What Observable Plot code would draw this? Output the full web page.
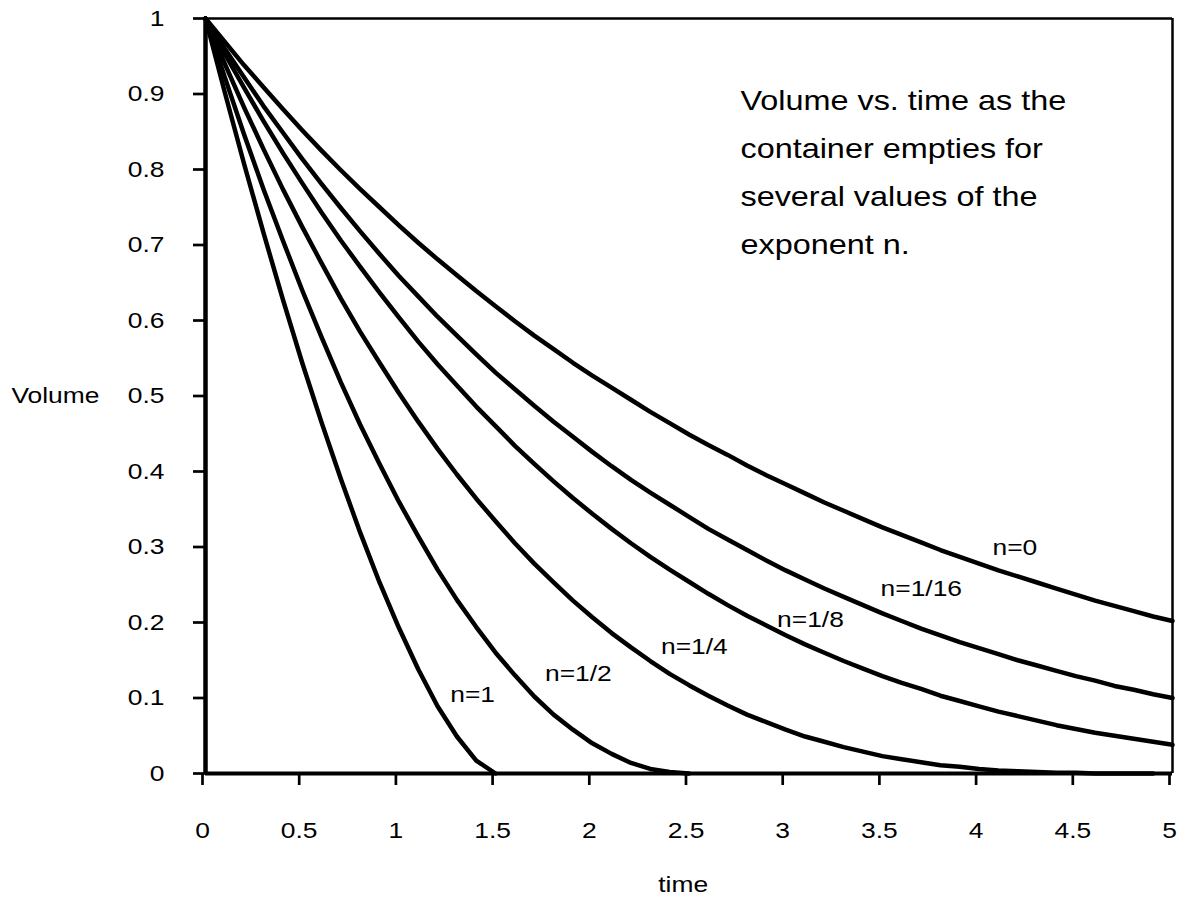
<!DOCTYPE html>
<html>
<head>
<meta charset="utf-8">
<script src="https://cdn.jsdelivr.net/npm/d3@7"></script>
<script src="https://cdn.jsdelivr.net/npm/@observablehq/plot@0.6"></script>
<style>
  html, body { margin: 0; padding: 0; background: #fff; }
</style>
</head>
<body>
<div id="chart"></div>
<script>
// ---- data ----
const times = [0,0.1,0.2,0.3,0.4,0.5,0.6,0.7,0.8,0.9,1,1.1,1.2,1.3,1.4,1.5,1.6,1.7,1.8,1.9,2,2.1,2.2,2.3,2.4,2.5,2.6,2.7,2.8,2.9,3,3.1,3.2,3.3,3.4,3.5,3.6,3.7,3.8,3.9,4,4.1,4.2,4.3,4.4,4.5,4.6,4.7,4.8,4.9,5];

const vN0    = [1,0.969,0.938,0.909,0.880,0.852,0.825,0.799,0.774,0.750,0.726,0.703,0.681,0.660,0.639,0.619,0.599,0.580,0.562,0.544,0.527,0.511,0.495,0.479,0.464,0.449,0.435,0.422,0.408,0.395,0.383,0.371,0.359,0.348,0.337,0.326,0.316,0.306,0.296,0.287,0.278,0.269,0.261,0.253,0.245,0.237,0.229,0.222,0.215,0.208,0.202];
const vN1_16 = [1,0.960,0.922,0.884,0.849,0.814,0.781,0.749,0.718,0.688,0.659,0.632,0.605,0.580,0.555,0.531,0.509,0.487,0.466,0.446,0.426,0.407,0.389,0.372,0.356,0.340,0.324,0.310,0.296,0.282,0.269,0.257,0.245,0.234,0.223,0.212,0.202,0.192,0.183,0.174,0.166,0.158,0.150,0.143,0.136,0.129,0.123,0.116,0.111,0.105,0.100];
const vN1_8  = [1,0.953,0.908,0.864,0.822,0.782,0.743,0.706,0.671,0.637,0.604,0.572,0.542,0.514,0.486,0.460,0.434,0.410,0.387,0.365,0.344,0.324,0.305,0.287,0.270,0.254,0.238,0.223,0.209,0.196,0.183,0.171,0.160,0.149,0.139,0.129,0.120,0.112,0.103,0.096,0.089,0.082,0.076,0.070,0.064,0.059,0.054,0.050,0.046,0.042,0.038];
const vN1_4  = [1,0.940,0.882,0.827,0.774,0.724,0.676,0.629,0.585,0.544,0.504,0.466,0.430,0.396,0.364,0.334,0.305,0.278,0.253,0.229,0.207,0.186,0.167,0.149,0.132,0.117,0.103,0.090,0.078,0.068,0.058,0.049,0.042,0.035,0.029,0.023,0.019,0.015,0.011,0.009,0.006,0.004,0.003,0.002,0.001,0.001,0,0,0,0];
const vN1_2  = [1,0.922,0.846,0.774,0.706,0.640,0.578,0.518,0.462,0.410,0.360,0.314,0.270,0.230,0.194,0.160,0.130,0.102,0.078,0.058,0.040,0.026,0.014,0.006,0.002,0];
const vN1    = [1,0.902,0.807,0.716,0.628,0.544,0.465,0.390,0.319,0.253,0.193,0.138,0.089,0.049,0.017,0];

const seriesNames  = ["n=0","n=1/16","n=1/8","n=1/4","n=1/2","n=1"];
const seriesValues = [vN0, vN1_16, vN1_8, vN1_4, vN1_2, vN1];

// curve label positions (data units)
const labelT = [4.185, 3.701, 3.128, 2.528, 1.928, 1.381];
const labelV = [0.299, 0.244, 0.203, 0.168, 0.132, 0.104];

const xTicks = [0,0.5,1,1.5,2,2.5,3,3.5,4,4.5,5];
const yTicks = [0,0.1,0.2,0.3,0.4,0.5,0.6,0.7,0.8,0.9,1];

const noteLines = ["Volume vs. time as the", "container empties for", "several values of the", "exponent n."];
const noteT = [2.766];
const noteV = [0.9245];

const xTitle = "time";
const yTitle = "Volume";

// ---- tables built from the arrays ----
const lineData = seriesNames.flatMap((name, k) =>
  seriesValues[k].map((v, i) => ({t: times[i], v, n: name})));
const labelData = seriesNames.map((name, k) => ({t: labelT[k], v: labelV[k], name}));

const font = "'Liberation Sans', Arial, Helvetica, sans-serif";

const chart = Plot.plot({
  width: 1177,
  height: 899,
  marginLeft: 205,
  marginRight: 5,
  marginTop: 18,
  marginBottom: 126,
  style: {fontFamily: font, fontSize: "22px", color: "#000", background: "#fff", overflow: "visible"},
  x: {domain: [0, 5]},
  y: {domain: [0, 1]},
  marks: [
    Plot.ruleY([1], {stroke: "#000", strokeWidth: 2.5}),
    Plot.ruleX([5], {stroke: "#000", strokeWidth: 2.5}),
    Plot.axisX({ticks: xTicks, tickSize: 12, tickPadding: 37, tickFormat: d => String(d), label: null, strokeWidth: 2.7, stroke: "#000", fill: "#000", dx: -3}),
    Plot.axisY({ticks: yTicks, tickSize: 12, tickPadding: 29, tickFormat: d => String(d), label: null, strokeWidth: 2.7, stroke: "#000", fill: "#000"}),
    Plot.line(lineData, {x: "t", y: "v", z: "n", stroke: "#000", strokeWidth: 4.5, strokeLinejoin: "round", strokeLinecap: "round"}),
    Plot.ruleY([0], {stroke: "#000", strokeWidth: 4}),
    Plot.ruleX([0], {stroke: "#000", strokeWidth: 4.5}),
    Plot.text(labelData, {x: "t", y: "v", text: "name", fontSize: 22, fill: "#000", textAnchor: "middle"}),
    Plot.text([noteLines.join("\n")], {x: noteT, y: noteV, text: d => d, fontSize: 27, lineHeight: 1.78, lineAnchor: "top", textAnchor: "start", fill: "#000"}),
    Plot.text([yTitle], {x: [-0.776], y: [0.5], text: d => d, fontSize: 22, fill: "#000", textAnchor: "middle"}),
    Plot.text([xTitle], {x: [2.47], y: [-0.148], text: d => d, fontSize: 22, fill: "#000", textAnchor: "middle"})
  ]
});

// the reference font renders horizontally wider: stretch text around its anchor
const sx = 1.2;
chart.querySelectorAll("text").forEach(el => {
  const tr = el.getAttribute("transform");
  if (tr) {
    el.setAttribute("transform", tr + ` scale(${sx},1)`);
  } else {
    const x = +(el.getAttribute("x") || 0), y = +(el.getAttribute("y") || 0);
    el.setAttribute("transform", `translate(${x},${y}) scale(${sx},1) translate(${-x},${-y})`);
  }
});

document.getElementById("chart").appendChild(chart);
</script>
</body>
</html>
